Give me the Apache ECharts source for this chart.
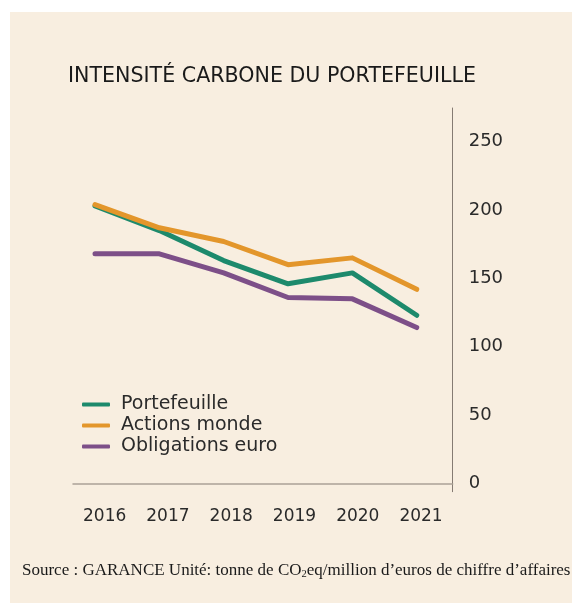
<!DOCTYPE html>
<html>
<head>
<meta charset="utf-8">
<script src="https://cdn.jsdelivr.net/npm/echarts@6/dist/echarts.min.js"></script>
<style>
html,body{margin:0;padding:0;background:#ffffff;}
#chart{width:572px;height:603px;}
</style>
</head>
<body>
<div id="chart"></div>
<script>
const years = ['2016','2017','2018','2019','2020','2021'];
const portefeuille = [203,185,163,146,154,123];
const actionsMonde = [204,187,177,160,165,142];
const obligationsEuro = [168,168,154,136,135,114];
const yTicks = [0,50,100,150,200,250];
const seriesNames = ['Portefeuille','Actions monde','Obligations euro'];
const seriesColors = ['#1d8a6c','#e3962b','#7d4f88'];

const FONT = 'DejaVu Sans';
const chart = echarts.init(document.getElementById('chart'), null, {renderer:'canvas'});
const allVals = [portefeuille, actionsMonde, obligationsEuro];

chart.setOption({
  backgroundColor:'#ffffff',
  animation:false,
  graphic:[
    {type:'rect', z:-10, shape:{x:10,y:12,width:562,height:591}, style:{fill:'#f8eee0'}},
    {type:'text', left:22, top:562, style:{
      rich:{
        n:{fontFamily:'Liberation Serif', fontSize:17, fill:'#1a1a1a'},
        s:{fontFamily:'Liberation Serif', fontSize:10.5, fill:'#1a1a1a', verticalAlign:'bottom', padding:[7,0,0,0]}
      },
      text:'{n|Source : GARANCE Unité: tonne de CO}{s|2}{n|eq/million d’euros de chiffre d’affaires}'
    }}
  ],
  title:{
    text:'INTENSITÉ CARBONE DU PORTEFEUILLE',
    left:68, top:66, padding:0,
    textStyle:{fontFamily:FONT, fontSize:20.6, fontWeight:'normal', color:'#1a1a1a'}
  },
  legend:{
    orient:'vertical', left:82, top:394, itemGap:0, padding:0,
    itemWidth:28, itemHeight:4, icon:'roundRect',
    data:seriesNames,
    textStyle:{fontFamily:FONT, fontSize:19, color:'#2a2a2a', lineHeight:21, padding:[0,0,0,6]}
  },
  grid:{left:73, right:119.3, top:108, bottom:111.3},
  xAxis:[
    {type:'category', data:years, boundaryGap:true,
     axisLine:{show:true, lineStyle:{color:'#aaa196', width:1.5}},
     axisTick:{show:false},
     axisLabel:{fontFamily:FONT, fontSize:17, color:'#2a2a2a', margin:16},
     splitLine:{show:false}},
    {type:'value', min:2015.658, max:2021.559, show:false}
  ],
  yAxis:{
    type:'value', position:'right', min:-6.15, max:274.7,
    axisLine:{show:true, lineStyle:{color:'#857b73', width:1}},
    axisTick:{show:false},
    splitLine:{show:false},
    axisLabel:{fontFamily:FONT, fontSize:18, color:'#2a2a2a', margin:16, customValues:yTicks,
      formatter:v=>String(Math.round(v))}
  },
  series: seriesNames.map((name,k)=>({
    name, type:'line', xAxisIndex:1, symbol:'none',
    color:seriesColors[k],
    lineStyle:{width:5, color:seriesColors[k], cap:'round', join:'round'},
    data: years.map((y,i)=>[+y, allVals[k][i]])
  }))
});
</script>
</body>
</html>
